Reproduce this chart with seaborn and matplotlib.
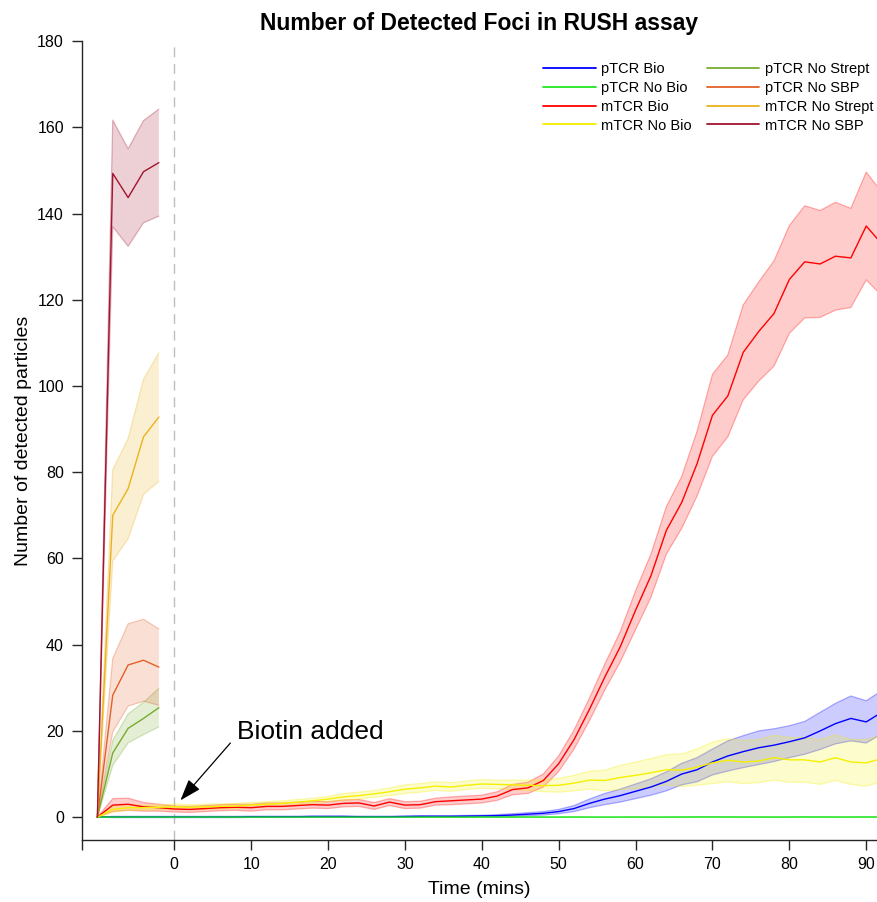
import matplotlib
matplotlib.use("Agg")
import matplotlib.pyplot as plt
import numpy as np
import pandas as pd
import seaborn as sns

# ---- data -------------------------------------------------------------
# time course sampled every 2 min, imaging starts at -10 min, biotin at 0
t_main = list(range(-10, 93, 2))
# control conditions were only imaged before the biotin addition
t_pre = [-10, -8, -6, -4, -2]

series_names = ["pTCR Bio", "pTCR No Bio", "mTCR Bio", "mTCR No Bio",
                "pTCR No Strept", "pTCR No SBP", "mTCR No Strept", "mTCR No SBP"]

ptcr_bio = [0, 0.05, 0.05, 0.05, 0.05, 0.05, 0.05, 0.05, 0.05, 0.05,
            0.1, 0.1, 0.1, 0.1, 0.15, 0.15, 0.15, 0.1, 0.1, 0.1,
            0.15, 0.2, 0.2, 0.2, 0.25, 0.3, 0.35, 0.5, 0.7, 0.9,
            1.3, 2.0, 3.2, 4.2, 5.0, 6.0, 7.0, 8.3, 10.0, 11.0,
            12.8, 14.2, 15.2, 16.1, 16.7, 17.5, 18.4, 20.0, 21.7, 22.9,
            22.1, 24.3]
ptcr_bio_err = [0, 0.15, 0.15, 0.15, 0.15, 0.15, 0.15, 0.15, 0.15, 0.15,
                0.15, 0.15, 0.15, 0.15, 0.15, 0.15, 0.15, 0.15, 0.15, 0.15,
                0.15, 0.15, 0.15, 0.15, 0.15, 0.15, 0.25, 0.3, 0.35, 0.4,
                0.5, 0.7, 1.0, 1.3, 1.5, 1.7, 1.9, 2.2, 2.5, 2.8,
                3.0, 3.5, 3.7, 3.9, 3.8, 3.7, 3.8, 4.3, 4.7, 5.2,
                4.9, 5.0]

ptcr_nobio = [0, 0.02, 0.02, 0.03, 0.02, 0.02, 0.02, 0.03, 0.02, 0.02,
              0.02, 0.03, 0.02, 0.02, 0.03, 0.02, 0.02, 0.02, 0.03, 0.02,
              0.02, 0.02, 0.03, 0.02, 0.02, 0.03, 0.02, 0.02, 0.03, 0.02,
              0.02, 0.03, 0.02, 0.02, 0.02, 0.03, 0.02, 0.02, 0.03, 0.05,
              0.05, 0.04, 0.03, 0.03, 0.02, 0.03, 0.05, 0.04, 0.03, 0.03,
              0.04, 0.03]
ptcr_nobio_err = [0, 0.05, 0.05, 0.05, 0.05, 0.05, 0.05, 0.05, 0.05, 0.05,
                  0.05, 0.05, 0.05, 0.05, 0.05, 0.05, 0.05, 0.05, 0.05, 0.05,
                  0.05, 0.05, 0.05, 0.05, 0.05, 0.05, 0.05, 0.05, 0.05, 0.05,
                  0.05, 0.05, 0.05, 0.05, 0.05, 0.05, 0.05, 0.05, 0.06, 0.08,
                  0.08, 0.07, 0.06, 0.06, 0.05, 0.06, 0.08, 0.07, 0.06, 0.06,
                  0.07, 0.06]

mtcr_bio = [0, 2.8, 3.0, 2.4, 2.2, 1.9, 1.8, 2.0, 2.2, 2.3,
            2.2, 2.5, 2.5, 2.7, 2.9, 2.8, 3.2, 3.3, 2.6, 3.5,
            2.8, 2.9, 3.6, 3.8, 4.0, 4.2, 4.9, 6.4, 6.8, 8.5,
            12.4, 18.0, 25.0, 32.5, 39.5, 48.0, 56.0, 66.5, 73.0, 82.0,
            93.2, 97.7, 107.8, 112.6, 116.8, 124.7, 128.8, 128.3, 130.1, 129.7,
            137.1, 133.0]
mtcr_bio_err = [0, 1.5, 1.4, 1.0, 0.8, 0.7, 0.7, 0.7, 0.7, 0.7,
                0.8, 0.8, 0.8, 0.8, 0.8, 0.8, 0.8, 0.8, 0.8, 0.8,
                0.8, 0.8, 0.8, 0.9, 0.9, 0.9, 1.0, 1.2, 1.3, 1.5,
                1.8, 2.2, 2.6, 3.0, 3.5, 4.5, 5.0, 5.5, 6.0, 7.5,
                9.5, 9.5, 11.0, 11.5, 12.2, 12.5, 13.0, 12.4, 12.5, 11.5,
                12.5, 12.0]

mtcr_nobio = [0, 1.8, 2.2, 2.2, 2.3, 2.4, 2.3, 2.4, 2.5, 2.6,
              2.8, 3.0, 3.2, 3.5, 3.8, 4.2, 4.7, 5.0, 5.4, 5.9,
              6.5, 6.8, 7.2, 7.0, 7.4, 7.7, 7.6, 7.5, 7.4, 7.3,
              7.4, 7.9, 8.6, 8.5, 9.2, 9.7, 10.3, 11.0, 10.9, 11.6,
              12.6, 13.2, 12.8, 13.0, 13.8, 13.3, 13.3, 12.8, 13.8, 12.8,
              12.6, 13.6]
mtcr_nobio_err = [0, 0.6, 0.6, 0.6, 0.6, 0.6, 0.6, 0.6, 0.6, 0.6,
                  0.6, 0.6, 0.6, 0.6, 0.6, 0.6, 0.8, 0.8, 0.8, 0.9,
                  1.0, 1.0, 1.0, 1.0, 1.0, 1.0, 1.0, 1.1, 1.2, 1.4,
                  1.6, 1.8, 2.1, 2.4, 2.8, 3.1, 3.3, 3.5, 3.8, 4.2,
                  4.8, 5.0, 5.0, 5.0, 5.2, 5.2, 5.2, 5.2, 5.3, 5.2,
                  5.4, 5.4]

ptcr_nostrept = [0, 14.9, 20.6, 22.9, 25.4]
ptcr_nostrept_err = [0, 2.9, 3.35, 3.75, 4.45]
ptcr_nosbp = [0, 28.3, 35.3, 36.4, 34.8]
ptcr_nosbp_err = [0, 8.5, 9.55, 9.5, 8.85]
mtcr_nostrept = [0, 70.0, 76.2, 88.2, 92.8]
mtcr_nostrept_err = [0, 10.6, 11.6, 13.35, 14.9]
mtcr_nosbp = [0, 149.3, 143.7, 149.7, 151.8]
mtcr_nosbp_err = [0, 12.35, 11.3, 11.85, 12.4]

x_ticks = [-12, 0, 10, 20, 30, 40, 50, 60, 70, 80, 90]
x_tick_labels = ["", "0", "10", "20", "30", "40", "50", "60", "70", "80", "90"]
y_ticks = [0, 20, 40, 60, 80, 100, 120, 140, 160, 180]

# ---- assemble long table ----------------------------------------------
series = {
    "pTCR Bio": (t_main, ptcr_bio, ptcr_bio_err),
    "pTCR No Bio": (t_main, ptcr_nobio, ptcr_nobio_err),
    "mTCR Bio": (t_main, mtcr_bio, mtcr_bio_err),
    "mTCR No Bio": (t_main, mtcr_nobio, mtcr_nobio_err),
    "pTCR No Strept": (t_pre, ptcr_nostrept, ptcr_nostrept_err),
    "pTCR No SBP": (t_pre, ptcr_nosbp, ptcr_nosbp_err),
    "mTCR No Strept": (t_pre, mtcr_nostrept, mtcr_nostrept_err),
    "mTCR No SBP": (t_pre, mtcr_nosbp, mtcr_nosbp_err),
}
rows = []
for name, (tt, mm, ee) in series.items():
    for ti, mi, ei in zip(tt, mm, ee):
        rows.append({"series": name, "time": ti, "count": mi, "err": ei})
df = pd.DataFrame(rows)

palette = {
    "pTCR Bio": "#0000ff",
    "pTCR No Bio": "#22e622",
    "mTCR Bio": "#ff0000",
    "mTCR No Bio": "#f5f000",
    "pTCR No Strept": "#77ac30",
    "pTCR No SBP": "#e4602a",
    "mTCR No Strept": "#edb120",
    "mTCR No SBP": "#a2142f",
}

# ---- plot --------------------------------------------------------------
sns.set_theme(style="ticks")
plt.rcParams["font.family"] = ["Liberation Sans", "DejaVu Sans"]
plt.rcParams["text.color"] = "black"
plt.rcParams["axes.labelcolor"] = "black"
plt.rcParams["axes.titlecolor"] = "black"

fig = plt.figure(figsize=(8.77, 9.02), dpi=100)
ax = fig.add_axes([0.0935, 0.0687, 0.9065, 0.8858])

# shaded error bands
for name in series_names:
    sub = df[df["series"] == name]
    c = palette[name]
    ax.fill_between(sub["time"], sub["count"] - sub["err"], sub["count"] + sub["err"],
                    facecolor=c, alpha=0.2, edgecolor="none", zorder=1)
    ax.plot(sub["time"], sub["count"] - sub["err"], color=c, alpha=0.3, lw=0.9, zorder=1)
    ax.plot(sub["time"], sub["count"] + sub["err"], color=c, alpha=0.3, lw=0.9, zorder=1)

sns.lineplot(data=df, x="time", y="count", hue="series", hue_order=series_names,
             palette=palette, linewidth=1.0, estimator=None, sort=False, ax=ax, zorder=3)

# biotin addition marker
ax.axvline(0, color="#bdbdbd", lw=1.0, ls=(0, (7, 5)), zorder=0)
ax.text(8.2, 19.7, "Biotin added", fontsize=19, ha="left", va="center", color="black")
ax.annotate("", xy=(0.8, 3.9), xytext=(7.3, 17.2),
            arrowprops=dict(arrowstyle="-|>,head_width=0.38,head_length=1.1",
                            color="black", lw=0.9, shrinkA=0, shrinkB=0))

ax.set_xlim(-12, 91.4)
ax.set_ylim(-5.3, 180)
ax.set_xticks(x_ticks)
ax.set_xticklabels(x_tick_labels)
ax.set_yticks(y_ticks)
ax.tick_params(axis="both", direction="out", length=7, width=1.0,
               colors="#262626", labelsize=11.5, labelcolor="black")
ax.tick_params(axis="y", pad=6)
ax.tick_params(axis="x", pad=5)
for s in ["top", "right"]:
    ax.spines[s].set_visible(False)
for s in ["left", "bottom"]:
    ax.spines[s].set_color("#262626")
    ax.spines[s].set_linewidth(1.0)

ax.set_xlabel("Time (mins)", fontsize=14, labelpad=7)
ax.set_ylabel("Number of detected particles", fontsize=14, labelpad=4)
ax.set_title("Number of Detected Foci in RUSH assay", fontsize=16.5,
             fontweight="bold", pad=8)

handles, labels = ax.get_legend_handles_labels()
leg = ax.legend(handles, labels, ncol=2, frameon=False, fontsize=10.5,
                loc="upper right", bbox_to_anchor=(1.012, 0.99),
                handlelength=3.6, labelspacing=0.33, columnspacing=1.0,
                handletextpad=0.4)
for line in leg.get_lines():
    line.set_linewidth(1.3)
for txt in leg.get_texts():
    txt.set_color("black")

fig.savefig("out.png", dpi=100)
